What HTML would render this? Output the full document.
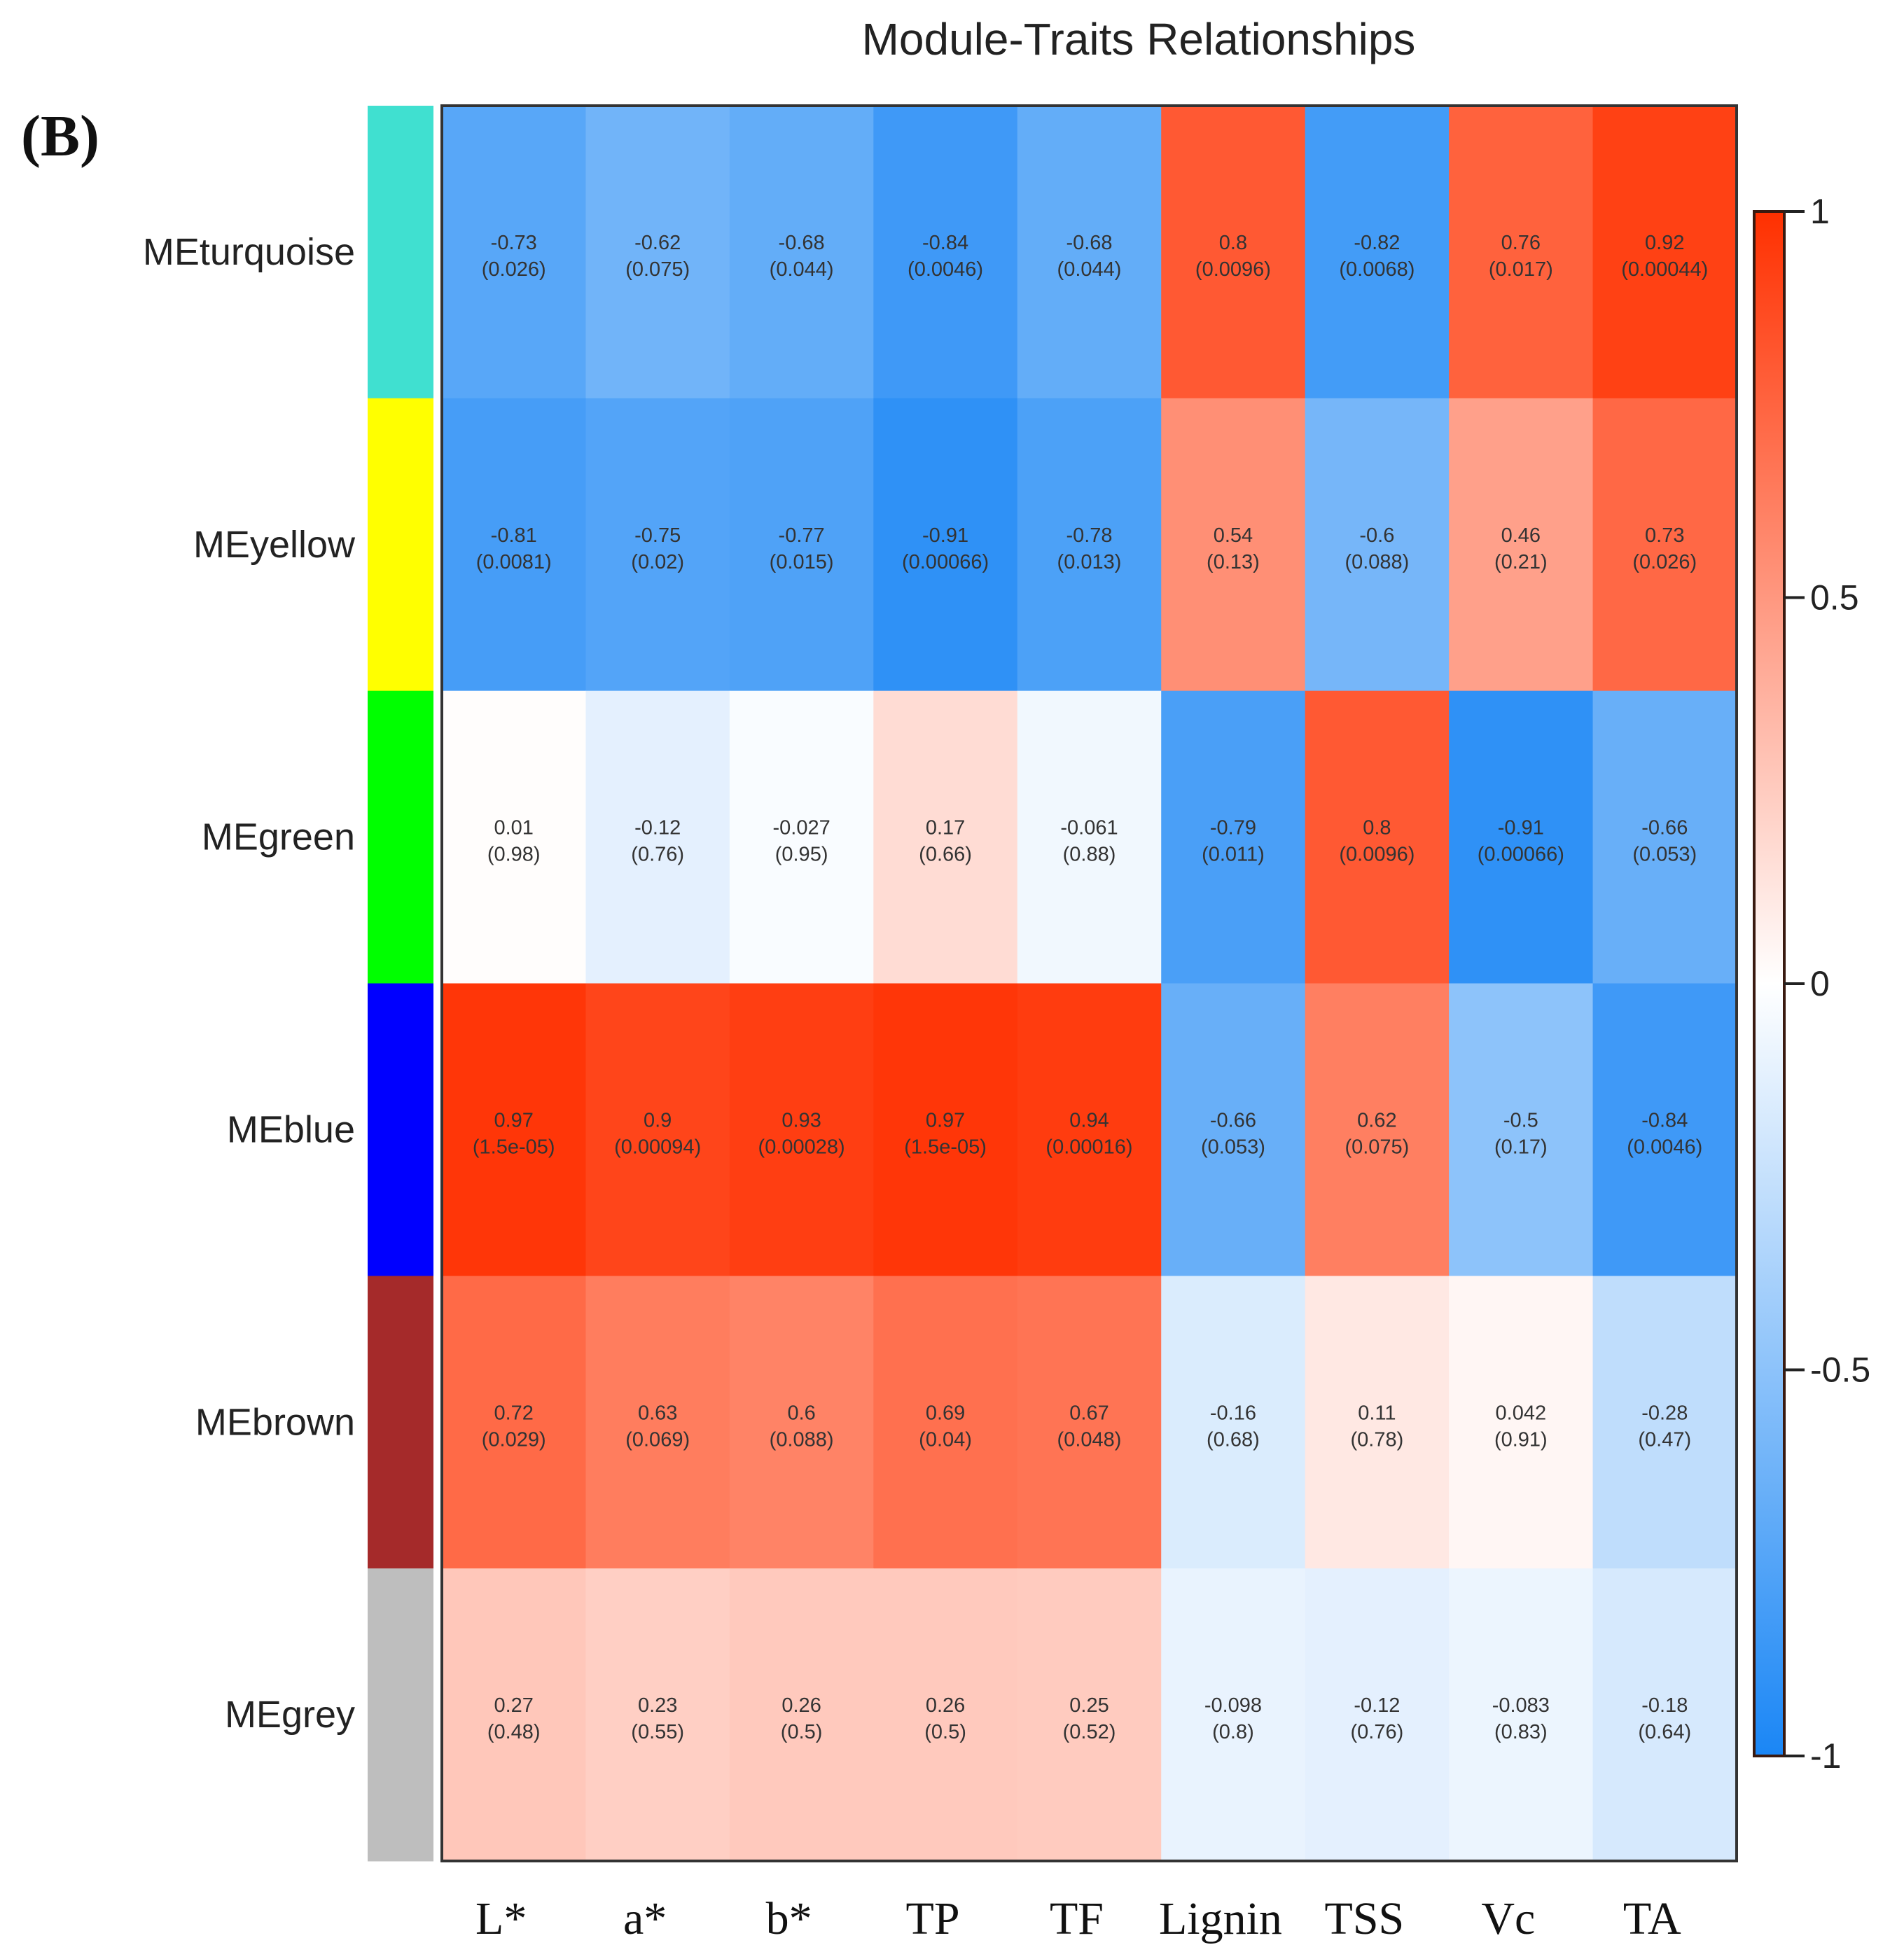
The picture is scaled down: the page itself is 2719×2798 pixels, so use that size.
<!DOCTYPE html>
<html><head><meta charset="utf-8"><style>
body{margin:0;background:#fff;}
svg{display:block;}
</style></head><body>
<svg id="chart" width="2719" height="2798" viewBox="0 0 2719 2798" xmlns="http://www.w3.org/2000/svg">
<defs>
<linearGradient id="cbgrad" x1="0" y1="0" x2="0" y2="1">
<stop offset="0" stop-color="#ff3000"/><stop offset="0.5" stop-color="#ffffff"/><stop offset="1" stop-color="#1a86f5"/>
</linearGradient>
</defs>
<text x="1626" y="78" font-family="Liberation Sans, sans-serif" font-size="64" text-anchor="middle" fill="#222">Module-Traits Relationships</text>
<text x="30" y="222" font-family="Liberation Serif, serif" font-weight="bold" font-size="84" fill="#111">(B)</text>
<g id="cells"></g>
<rect x="631" y="151" width="1849" height="2507" fill="none" stroke="#333" stroke-width="4"/>
<g id="colorbar">
<rect x="2505" y="302" width="43" height="2206" fill="url(#cbgrad)" stroke="#3a1a10" stroke-width="4"/>
</g>
</svg>
<script>
const modules = ["MEturquoise","MEyellow","MEgreen","MEblue","MEbrown","MEgrey"];
const moduleColors = ["#40E0D0","#FFFF00","#00FF00","#0000FF","#A52A2A","#BEBEBE"];
const traits = ["L*","a*","b*","TP","TF","Lignin","TSS","Vc","TA"];
const corr = [
 [-0.73,-0.62,-0.68,-0.84,-0.68,0.8,-0.82,0.76,0.92],
 [-0.81,-0.75,-0.77,-0.91,-0.78,0.54,-0.6,0.46,0.73],
 [0.01,-0.12,-0.027,0.17,-0.061,-0.79,0.8,-0.91,-0.66],
 [0.97,0.9,0.93,0.97,0.94,-0.66,0.62,-0.5,-0.84],
 [0.72,0.63,0.6,0.69,0.67,-0.16,0.11,0.042,-0.28],
 [0.27,0.23,0.26,0.26,0.25,-0.098,-0.12,-0.083,-0.18]
];
const pvals = [
 ["0.026","0.075","0.044","0.0046","0.044","0.0096","0.0068","0.017","0.00044"],
 ["0.0081","0.02","0.015","0.00066","0.013","0.13","0.088","0.21","0.026"],
 ["0.98","0.76","0.95","0.66","0.88","0.011","0.0096","0.00066","0.053"],
 ["1.5e-05","0.00094","0.00028","1.5e-05","0.00016","0.053","0.075","0.17","0.0046"],
 ["0.029","0.069","0.088","0.04","0.048","0.68","0.78","0.91","0.47"],
 ["0.48","0.55","0.5","0.5","0.52","0.8","0.76","0.83","0.64"]
];
const tickValues = [1,0.5,0,-0.5,-1];
const tickLabels = ["1","0.5","0","-0.5","-1"];

const NS="http://www.w3.org/2000/svg";
const svg=document.getElementById('chart');
const cellsG=document.getElementById('cells');
const cbG=document.getElementById('colorbar');
const X0=631,X1=2480,Y0=151,Y1=2658;
const cw=(X1-X0)/traits.length, rh=(Y1-Y0)/modules.length;
const xPos=i=>X0+i*cw;
const yPos=j=>Y0+j*rh;
const cbTop=302,cbBot=2508;
const cbY=v=>cbTop+(1-v)/2*(cbBot-cbTop);
function colorOf(v){
  let r,g,b;
  if(v>=0){r=255;g=255-(255-48)*v;b=255-255*v;}
  else{const t=-v;r=255-(255-26)*t;g=255-(255-134)*t;b=255-(255-245)*t;}
  return `rgb(${Math.round(r)},${Math.round(g)},${Math.round(b)})`;
}
function mk(tag,attrs){const e=document.createElementNS(NS,tag);for(const k in attrs)e.setAttribute(k,attrs[k]);return e;}

modules.forEach((m,j)=>{
  const bar=mk('rect',{x:525,y:yPos(j),width:94,height:rh+0.5,fill:moduleColors[j]});
  
  
  svg.appendChild(bar);
  const lab=mk('text',{x:507,y:yPos(j)+rh/2+18,'text-anchor':'end','font-family':'Liberation Sans, sans-serif','font-size':'54',fill:'#222'});
  lab.textContent=m;
  
  
  svg.appendChild(lab);
  traits.forEach((t,i)=>{
    const v=corr[j][i];
    const c=mk('rect',{x:xPos(i),y:yPos(j),width:cw+0.5,height:rh+0.5,fill:colorOf(v)});
    
    
    cellsG.appendChild(c);
    const tx=mk('text',{x:xPos(i)+cw/2,'text-anchor':'middle','font-family':'Liberation Sans, sans-serif','font-size':'29',fill:'#333'});
    const t1=mk('tspan',{x:xPos(i)+cw/2,y:yPos(j)+rh/2-4});t1.textContent=String(v);
    const t2=mk('tspan',{x:xPos(i)+cw/2,y:yPos(j)+rh/2+34});t2.textContent='('+pvals[j][i]+')';
    tx.appendChild(t1);tx.appendChild(t2);
    
    
    cellsG.appendChild(tx);
  });
});
traits.forEach((t,i)=>{
  const lab=mk('text',{x:xPos(i)+cw/2-18,y:2762,'text-anchor':'middle','font-family':'Liberation Serif, serif','font-size':'66',fill:'#111'});
  lab.textContent=t;
  
  
  svg.appendChild(lab);
});
tickValues.forEach((v,k)=>{
  const y=cbY(v);
  const ln=mk('line',{x1:2548,x2:2577,y1:y,y2:y,stroke:'#222','stroke-width':'4'});
  
  
  cbG.appendChild(ln);
  const tx=mk('text',{x:2585,y:y+17,'font-family':'Liberation Sans, sans-serif','font-size':'50',fill:'#222'});
  tx.textContent=tickLabels[k];
  
  
  cbG.appendChild(tx);
});
</script>
</body></html>
